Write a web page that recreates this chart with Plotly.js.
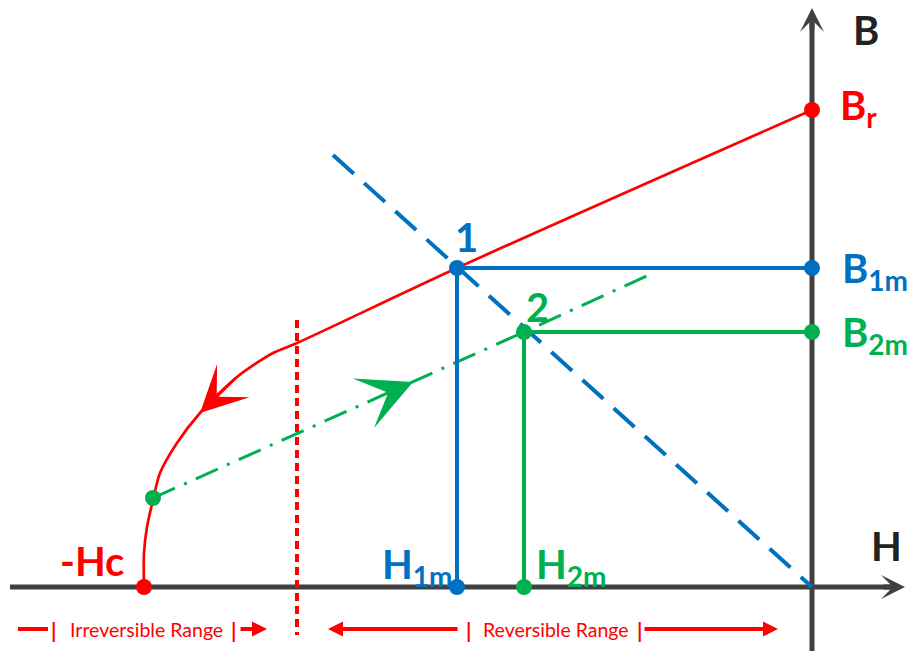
<!DOCTYPE html>
<html>
<head>
<meta charset="utf-8">
<script src="https://cdn.plot.ly/plotly-3.0.1.min.js"></script>
<style>
  html, body { margin: 0; padding: 0; background: #fff; }
  #chart { width: 909px; height: 651px; }
</style>
</head>
<body>
<div id="chart"></div>
<script>
// drawing units, origin where the H and B axes cross
const demagH = [0, -355, -515, -539, -575, -612, -635, -652, -659, -665, -668, -668];
const demagB = [477, 319, 244, 234, 210, 174, 144, 114, 87, 60, 34, 0];

const loadH = [-479, 0];
const loadB = [432, 0];

const recoilH = [-659, -288, -159];
const recoilB = [89, 255, 314];

const point1 = { h: -355, b: 319 };
const point2 = { h: -288, b: 255 };
const remanence = 477;
const coercivity = -668;
const recoilStart = { h: -659, b: 89 };

const boundaryH = -515;
const boundaryB = [267, -48];

const RED = '#ff0000';
const BLUE = '#0070c0';
const GREEN = '#00b050';
const AXIS = '#404040';
const FONT = 'Lato, "Open Sans", sans-serif';

const traces = [
  // axes
  { x: [-802, 80], y: [0, 0], mode: 'lines', line: { color: AXIS, width: 5 } },
  { x: [0, 0], y: [-64, 565], mode: 'lines', line: { color: AXIS, width: 5 } },
  // irreversible / reversible boundary
  { x: [boundaryH, boundaryH], y: boundaryB, mode: 'lines', line: { color: RED, width: 4, dash: '8px,5px' } },
  // demagnetisation curve
  { x: demagH, y: demagB, mode: 'lines', line: { color: RED, width: 2.7, shape: 'spline', smoothing: 0.8 } },
  // load line
  { x: loadH, y: loadB, mode: 'lines', line: { color: BLUE, width: 4, dash: '28px,14px' } },
  // recoil line
  { x: recoilH, y: recoilB, mode: 'lines', line: { color: GREEN, width: 3, dash: '24px,10px,3px,10px' } },
  // projections of point 1 and 2
  {
    x: [point1.h, 0, null, point1.h, point1.h],
    y: [point1.b, point1.b, null, point1.b, 0],
    mode: 'lines', line: { color: BLUE, width: 4 },
  },
  {
    x: [point2.h, 0, null, point2.h, point2.h],
    y: [point2.b, point2.b, null, point2.b, 0],
    mode: 'lines', line: { color: GREEN, width: 4 },
  },
  // dots
  {
    x: [0, point1.h, 0, point1.h, point2.h, 0, point2.h, coercivity, recoilStart.h],
    y: [remanence, point1.b, point1.b, 0, point2.b, point2.b, 0, 0, recoilStart.b],
    mode: 'markers',
    marker: { size: 16, color: [RED, BLUE, BLUE, BLUE, GREEN, GREEN, GREEN, RED, GREEN] },
  },
  // stub left of the irreversible range label
  { x: [-794, -764], y: [-42, -42], mode: 'lines', line: { color: RED, width: 4 } },
];

function label(text, x, y, color, size, xanchor) {
  return {
    x, y, text, showarrow: false,
    xanchor: xanchor || 'center', yanchor: 'middle',
    font: { family: FONT, size, color },
  };
}

function arrow(x, y, ax, ay, color, width, size, head) {
  return {
    x, y, ax, ay, axref: 'x', ayref: 'y', text: '',
    showarrow: true, arrowhead: head, arrowsize: size, arrowwidth: width, arrowcolor: color,
  };
}

const annotations = [
  label('<b>B</b>', 54, 557, '#222', 40),
  label('<b>H</b>', 74, 41, '#222', 40),
  label('<b>B<sub>r</sub></b>', 26, 480, RED, 40, 'left'),
  label('<b>B<sub>1m</sub></b>', 28, 317, BLUE, 40, 'left'),
  label('<b>B<sub>2m</sub></b>', 28, 253, GREEN, 40, 'left'),
  label('<b>1</b>', -346, 350, BLUE, 40),
  label('<b>2</b>', -275, 280, GREEN, 40),
  label('<b>-Hc</b>', -720, 26, RED, 40),
  label('<b>H<sub>1m</sub></b>', -432, 21, BLUE, 40, 'left'),
  label('<b>H<sub>2m</sub></b>', -278, 21, GREEN, 40, 'left'),
  // range labels
  label('Irreversible Range', -666, -42, RED, 19.5),
  label('Reversible Range', -256, -42, RED, 19.5),
  label('<b>|</b>', -759, -42, RED, 21),
  label('<b>|</b>', -579, -42, RED, 21),
  label('<b>|</b>', -344, -42, RED, 21),
  label('<b>|</b>', -173, -42, RED, 21),
  // axis heads
  arrow(93, 0, 70, 0, AXIS, 5, 0.8, 3),
  arrow(0, 579, 0, 556, AXIS, 5, 0.8, 3),
  // direction heads on the curves
  arrow(demagH[5], demagB[5], demagH[4], demagB[4], RED, 2.5, 3.1, 3),
  arrow(-399, 205, -420, 196, GREEN, 3, 3.0, 3),
  // range arrows
  arrow(-545, -42, -573, -42, RED, 4, 0.75, 2),
  arrow(-484, -42, -353, -42, RED, 4, 0.75, 2),
  arrow(-34, -42, -169, -42, RED, 4, 0.75, 2),
];

const layout = {
  width: 909,
  height: 651,
  margin: { l: 0, r: 0, t: 0, b: 0 },
  paper_bgcolor: '#ffffff',
  plot_bgcolor: '#ffffff',
  showlegend: false,
  xaxis: { range: [-812, 97], visible: false, fixedrange: true },
  yaxis: { range: [-64, 587], visible: false, fixedrange: true },
  font: { family: FONT },
  annotations,
};

Plotly.newPlot('chart', traces, layout, { displayModeBar: false, staticPlot: true });
</script>
</body>
</html>
